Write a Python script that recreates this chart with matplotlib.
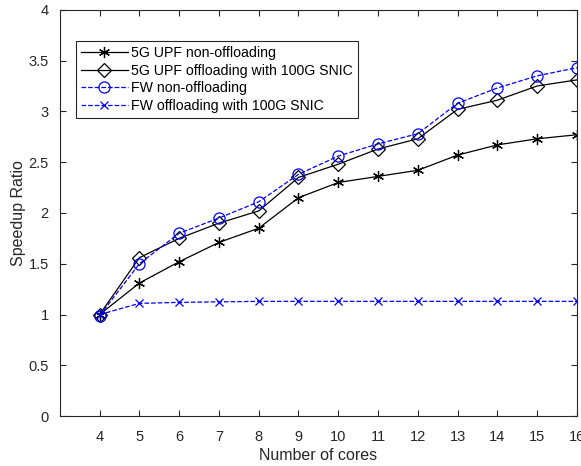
import matplotlib
matplotlib.use('Agg')
import matplotlib.pyplot as plt

plt.rcParams['font.family'] = ['Liberation Sans', 'DejaVu Sans']

cores = [4, 5, 6, 7, 8, 9, 10, 11, 12, 13, 14, 15, 16]
upf_non = [1.0, 1.31, 1.52, 1.71, 1.85, 2.15, 2.30, 2.36, 2.42, 2.57, 2.67, 2.73, 2.77]
upf_off = [1.0, 1.56, 1.75, 1.90, 2.02, 2.35, 2.48, 2.63, 2.73, 3.02, 3.11, 3.25, 3.31]
fw_non = [0.99, 1.50, 1.80, 1.95, 2.11, 2.38, 2.56, 2.68, 2.78, 3.08, 3.23, 3.35, 3.43]
fw_off = [1.0, 1.11, 1.12, 1.125, 1.13, 1.13, 1.13, 1.13, 1.13, 1.13, 1.13, 1.13, 1.13]

fig = plt.figure(figsize=(5.81, 4.66), dpi=100)
ax = fig.add_axes([0.103, 0.107, 0.890, 0.872])

ax.plot(cores, upf_non, '-', color='black', marker=(6, 2, 0), ms=8, lw=0.9,
        mew=0.9, label='5G UPF non-offloading')
ax.plot(cores, upf_off, '-', color='black', marker='D', mfc='none', ms=7, lw=0.9,
        mew=0.9, label='5G UPF offloading with 100G SNIC')
ax.plot(cores, fw_non, '--', color='blue', marker='o', mfc='none', ms=8, lw=0.9,
        mew=0.9, label='FW non-offloading')
ax.plot(cores, fw_off, '--', color='blue', marker='x', ms=6, lw=0.9,
        mew=0.9, label='FW offloading with 100G SNIC')

ax.set_xlim(3, 16)
ax.set_ylim(0, 4)
ax.set_xticks(cores)
ax.set_yticks([0, 0.5, 1, 1.5, 2, 2.5, 3, 3.5, 4])
ax.set_yticklabels(['0', '0.5', '1', '1.5', '2', '2.5', '3', '3.5', '4'])
ax.tick_params(direction='in', top=True, right=True, labelsize=10.5,
               colors='#262626', length=4)
ax.tick_params(axis='x', pad=10)
ax.tick_params(axis='y', pad=8)
for s in ax.spines.values():
    s.set_color('#262626')
    s.set_linewidth(0.8)

ax.set_xlabel('Number of cores', fontsize=11.5, color='#262626', labelpad=3)
ax.set_ylabel('Speedup Ratio', fontsize=11.5, color='#262626', labelpad=2)

leg = ax.legend(loc='upper left', bbox_to_anchor=(0.031, 0.923), fontsize=10.2,
                fancybox=False, edgecolor='#262626', framealpha=1,
                handlelength=3.3, borderpad=0.35, labelspacing=0.25,
                handletextpad=0.25, borderaxespad=0)
leg.get_frame().set_linewidth(0.8)

fig.savefig('out.png', dpi=100)
